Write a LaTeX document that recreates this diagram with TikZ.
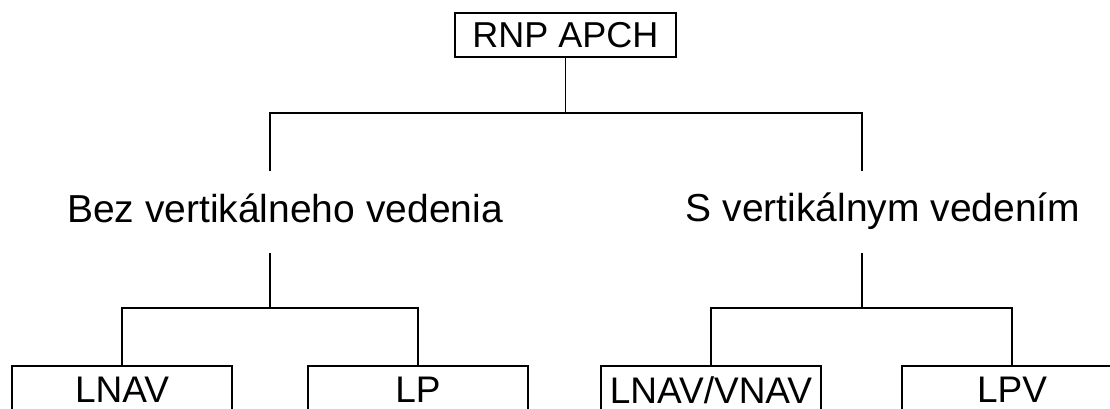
\documentclass[tikz,border=0pt]{standalone}
\usepackage{fontspec}
\setmainfont{Liberation Sans}
\tikzset{
  rootbox/.style={draw, line width=1.2pt, minimum width=221pt, minimum height=44pt, inner sep=0pt,
    font=\fontsize{36}{40}\selectfont},
  midlabel/.style={inner sep=0pt, anchor=base, font=\fontsize{39}{44}\selectfont},
  leafbox/.style={draw, line width=1.2pt, minimum width=220pt, minimum height=48pt, inner sep=0pt,
    font=\fontsize{37}{42}\selectfont},
  branch/.style={line width=1.2pt}
}
\begin{document}
\begin{tikzpicture}[x=1pt, y=-1pt]
                \clip (0,0) rectangle (1110,408);
                \fill[white] (0,0) rectangle (1110,408);
                % top level
                \node[rootbox] (rnp) at (565.5,35) {RNP APCH};
                \coordinate (topsplit) at (565.5,113);
                \coordinate (bez) at (270,171);
                \coordinate (sv) at (862,171);
                \draw[branch] (rnp.south) -- (topsplit);
                \draw[branch] (bez) |- (topsplit) -| (sv);
                % second level
                \node[midlabel] (bezlbl) at (285,222) {Bez vertikálneho vedenia};
                \node[midlabel] (svlbl) at (883,221) {S vertikálnym vedením};
                \coordinate (bezlow) at (270,253);
                \coordinate (bezsplit) at (270,308);
                \coordinate (svlow) at (862,253);
                \coordinate (svsplit) at (862,308);
                % leaves
                \node[leafbox] (lnav) at (122,390) {LNAV};
                \node[leafbox] (lp) at (418,390) {LP};
                \node[leafbox] (vnav) at (711,390) {LNAV/VNAV};
                \node[leafbox] (lpv) at (1012,390) {LPV};
                \draw[branch] (bezlow) -- (bezsplit);
                \draw[branch] (lnav.north) |- (bezsplit) -| (lp.north);
                \draw[branch] (svlow) -- (svsplit);
                \draw[branch] (vnav.north) |- (svsplit) -| (lpv.north);
            \end{tikzpicture}
\end{document}
